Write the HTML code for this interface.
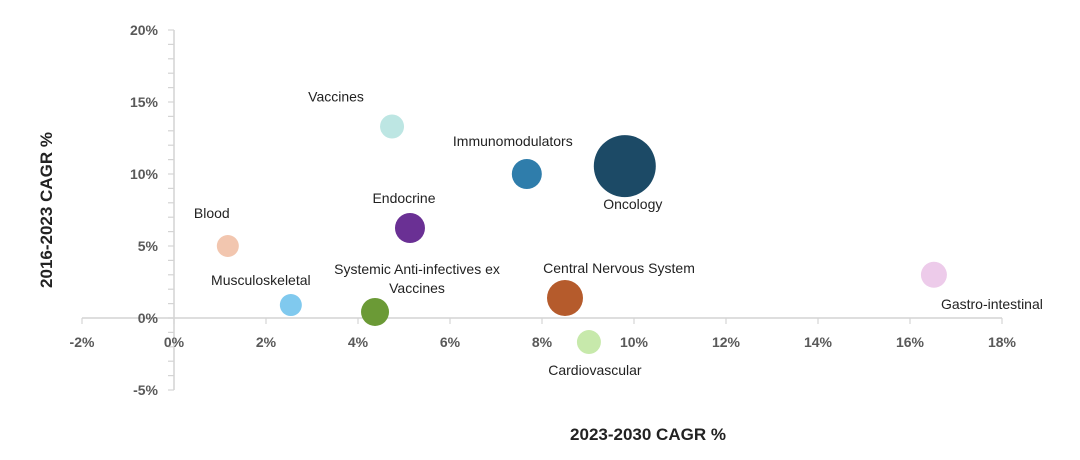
<!DOCTYPE html>
<html><head><meta charset="utf-8"><style>
html,body{margin:0;padding:0;background:#fff;width:1080px;height:460px;overflow:hidden}
svg text{font-family:"Liberation Sans",sans-serif}
</style></head><body>
<svg id="chart" width="1080" height="460" viewBox="0 0 1080 460" xmlns="http://www.w3.org/2000/svg">
<g id="axes"></g><g id="bubbles"></g><g id="labels"></g>
<text x="648" y="440" text-anchor="middle" font-size="17" font-weight="bold" fill="#222">2023-2030 CAGR %</text>
<text transform="translate(52,210) rotate(-90)" text-anchor="middle" font-size="17" font-weight="bold" fill="#222">2016-2023 CAGR %</text>
</svg>
<script>
const categories=["Vaccines","Immunomodulators","Oncology","Endocrine","Blood","Musculoskeletal","Systemic Anti-infectives ex Vaccines","Central Nervous System","Cardiovascular","Gastro-intestinal"];
const growthFuture=[4.74,7.67,9.8,5.13,1.17,2.54,4.37,8.5,9.02,16.52];
const growthPast=[13.3,10.0,10.55,6.25,5.0,0.9,0.42,1.39,-1.67,3.0];
const bubbleSize=[12,15,31,15,11,11,14,18,12,13];
const colors=["#bde6e3","#2f7dab","#1c4a66","#6a3094","#f2c6af","#80c9ee","#6b9a36","#b55b2c","#c7e9ab","#edcbea"];
const xTicks=[-2,0,2,4,6,8,10,12,14,16,18];
const yTicks=[-5,0,5,10,15,20];
const X=v=>174+v*46, Y=v=>318-v*14.4;
const NS="http://www.w3.org/2000/svg";
function mk(tag,attrs,parent,txt){const e=document.createElementNS(NS,tag);for(const k in attrs)e.setAttribute(k,attrs[k]);if(txt!==undefined)e.textContent=txt;parent.appendChild(e);return e;}
const ax=document.getElementById('axes');
let l=mk('line',{x1:X(-2),x2:X(18),y1:Y(0),y2:Y(0),stroke:'#d4d4d4','stroke-width':1.5},ax);


l=mk('line',{x1:X(0),x2:X(0),y1:Y(20),y2:Y(-5),stroke:'#d4d4d4','stroke-width':1.5},ax);


for(let v=-5;v<=20;v++){const t=mk('line',{x1:X(0)-6,x2:X(0),y1:Y(v),y2:Y(v),stroke:'#d4d4d4','stroke-width':1.2},ax);

}
xTicks.forEach(v=>{const t=mk('line',{x1:X(v),x2:X(v),y1:Y(0),y2:Y(0)+6,stroke:'#d4d4d4','stroke-width':1.2},ax);


const tx=mk('text',{x:X(v),y:347,'text-anchor':'middle','font-size':14,'font-weight':'bold',fill:'#595959'},ax,v+'%');

});
yTicks.forEach(v=>{const tx=mk('text',{x:158,y:Y(v)+5,'text-anchor':'end','font-size':14,'font-weight':'bold',fill:'#595959'},ax,v+'%');

});
const labelPos=[[-56,-25,'middle'],[-14,-28,'middle'],[8,43,'middle'],[-6,-25,'middle'],[-16,-28,'middle'],[-30,-20,'middle'],[42,-38,'middle'],[54,-25,'middle'],[6,33,'middle'],[58,34,'middle']];
const bg=document.getElementById('bubbles'),lg=document.getElementById('labels');
categories.forEach((c,i)=>{const cx=X(growthFuture[i]),cy=Y(growthPast[i]);
const b=mk('circle',{cx:cx,cy:cy,r:bubbleSize[i],fill:colors[i]},bg);


const p=labelPos[i];
if(i===6){const t=mk('text',{x:cx+p[0],y:cy+p[1],'text-anchor':'middle','font-size':14,fill:'#222'},lg,'Systemic Anti-infectives ex');


const t2=mk('text',{x:cx+p[0],y:cy+p[1]+19,'text-anchor':'middle','font-size':14,fill:'#222'},lg,'Vaccines');

}
else{const t=mk('text',{x:cx+p[0],y:cy+p[1],'text-anchor':p[2],'font-size':14,fill:'#222'},lg,c);

}});
</script>
</body></html>
